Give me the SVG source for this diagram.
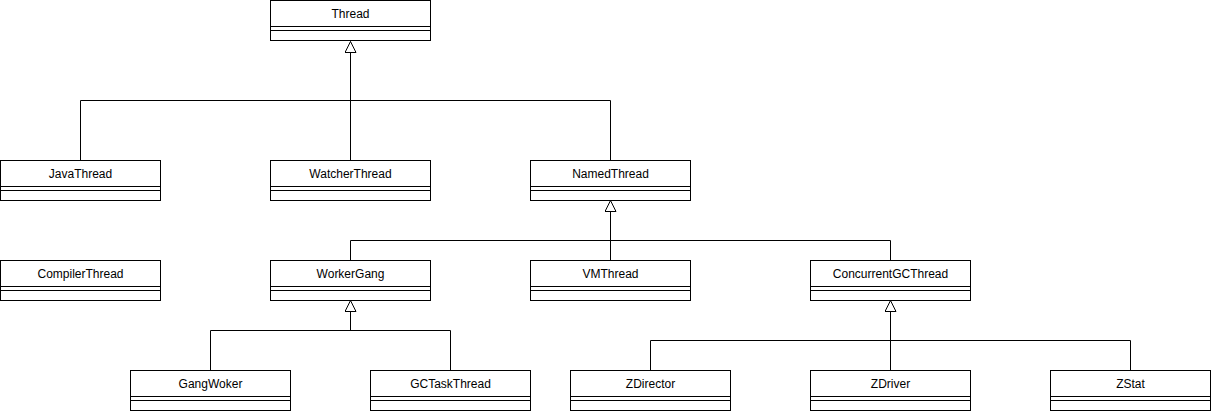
<svg xmlns="http://www.w3.org/2000/svg" width="1211" height="412" viewBox="0 0 1211 412">
<style>
.b{fill:#fff;stroke:#000;stroke-width:1}
.l{fill:none;stroke:#000;stroke-width:1}
.t{font-family:"Liberation Sans",Arial,sans-serif;font-size:12px;fill:#000;text-anchor:middle;dominant-baseline:central}
</style>
<defs>
<marker id="tri" markerWidth="14" markerHeight="14" refX="12" refY="6" orient="auto" markerUnits="userSpaceOnUse">
<path d="M1,0.5 L12,6 L1,11.5 Z" fill="#fff" stroke="#000" stroke-width="1"/>
</marker>
<g id="cls"><rect class="b" x="0" y="0" width="160" height="40"/><line class="l" x1="0" y1="26" x2="160" y2="26"/><line class="l" x1="0" y1="30" x2="160" y2="30"/></g>
</defs>
<rect width="1211" height="412" fill="#fff"/>
<g id="connectors">
<polyline class="l" points="80.5,160 80.5,100.5 610.5,100.5 610.5,160"/>
<line class="l" x1="350.5" y1="160" x2="350.5" y2="100.5"/>
<line class="l" x1="350.5" y1="100.5" x2="350.5" y2="41.5" marker-end="url(#tri)"/>
<polyline class="l" points="350.5,260 350.5,240.5 890.5,240.5 890.5,260"/>
<line class="l" x1="610.5" y1="260" x2="610.5" y2="240.5"/>
<line class="l" x1="610.5" y1="240.5" x2="610.5" y2="200.5" marker-end="url(#tri)"/>
<polyline class="l" points="210.5,370 210.5,330.5 450.5,330.5 450.5,370"/>
<line class="l" x1="350.5" y1="330.5" x2="350.5" y2="300.5" marker-end="url(#tri)"/>
<polyline class="l" points="650.5,370 650.5,340.5 1130.5,340.5 1130.5,370"/>
<line class="l" x1="890.5" y1="370" x2="890.5" y2="340.5"/>
<line class="l" x1="890.5" y1="340.5" x2="890.5" y2="300.5" marker-end="url(#tri)"/>
</g>
<g id="Thread"><use href="#cls" x="270.5" y="0.5"/><text class="t" x="350.5" y="14">Thread</text></g>
<g id="JavaThread"><use href="#cls" x="0.5" y="160.5"/><text class="t" x="80.5" y="174">JavaThread</text></g>
<g id="WatcherThread"><use href="#cls" x="270.5" y="160.5"/><text class="t" x="350.5" y="174">WatcherThread</text></g>
<g id="NamedThread"><use href="#cls" x="530.5" y="160.5"/><text class="t" x="610.5" y="174">NamedThread</text></g>
<g id="CompilerThread"><use href="#cls" x="0.5" y="260.5"/><text class="t" x="80.5" y="274">CompilerThread</text></g>
<g id="WorkerGang"><use href="#cls" x="270.5" y="260.5"/><text class="t" x="350.5" y="274">WorkerGang</text></g>
<g id="VMThread"><use href="#cls" x="530.5" y="260.5"/><text class="t" x="610.5" y="274">VMThread</text></g>
<g id="ConcurrentGCThread"><use href="#cls" x="810.5" y="260.5"/><text class="t" x="890.5" y="274">ConcurrentGCThread</text></g>
<g id="GangWoker"><use href="#cls" x="130.5" y="370.5"/><text class="t" x="210.5" y="384">GangWoker</text></g>
<g id="GCTaskThread"><use href="#cls" x="370.5" y="370.5"/><text class="t" x="450.5" y="384">GCTaskThread</text></g>
<g id="ZDirector"><use href="#cls" x="570.5" y="370.5"/><text class="t" x="650.5" y="384">ZDirector</text></g>
<g id="ZDriver"><use href="#cls" x="810.5" y="370.5"/><text class="t" x="890.5" y="384">ZDriver</text></g>
<g id="ZStat"><use href="#cls" x="1050.5" y="370.5"/><text class="t" x="1130.5" y="384">ZStat</text></g>
</svg>
